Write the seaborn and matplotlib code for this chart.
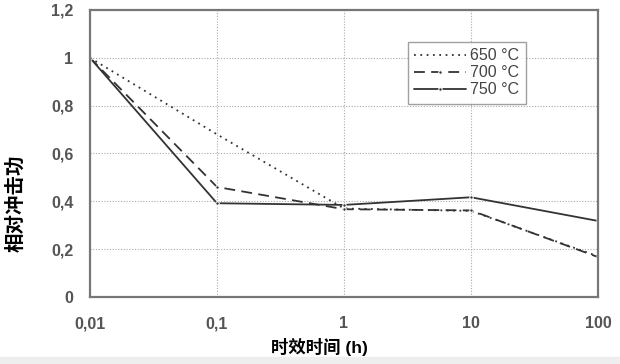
import numpy as np
import pandas as pd
import seaborn as sns
import matplotlib.pyplot as plt
from matplotlib.patches import Rectangle

# aging time (h) and relative impact energy per temperature
hours = [0.01, 0.1, 1, 10, 100]
t650 = [1.0, 0.68, 0.37, 0.36, 0.17]
t700 = [1.0, 0.46, 0.367, 0.362, 0.167]
t750 = [1.0, 0.392, 0.385, 0.417, 0.318]
labels = ['650 °C', '700 °C', '750 °C']

df = pd.DataFrame({
    'hours': hours * 3,
    'value': t650 + t700 + t750,
    'temp': [labels[0]] * 5 + [labels[1]] * 5 + [labels[2]] * 5,
})

sns.set_style('white')
plt.rcParams['font.family'] = ['Liberation Sans', 'Noto Sans CJK SC', 'DejaVu Sans']

fig = plt.figure(figsize=(6.2, 3.64), dpi=100)
# light grey strip at the bottom edge of the scan
fig.patches.append(Rectangle((0, 0), 1, 7 / 364, transform=fig.transFigure,
                             color='#eeeeee', zorder=0))
ax = fig.add_axes([90 / 620, 1 - 297 / 364, 508 / 620, 287 / 364])

sns.lineplot(data=df, x='hours', y='value', hue='temp', style='temp',
             palette=['#333333', '#333333', '#333333'],
             dashes={labels[0]: (1, 2.5), labels[1]: (6, 3.5), labels[2]: ''},
             markers={labels[0]: 'o', labels[1]: 'o', labels[2]: 'o'},
             markersize=2.5, linewidth=1.3, ax=ax)

ax.set_xscale('log')
ax.set_xlim(0.01, 100)
ax.set_ylim(0, 1.2)
ax.set_xticks(hours)
ax.set_xticklabels(['0,01', '0,1', '1', '10', '100'])
yt = np.arange(0, 1.21, 0.2)
ax.set_yticks(yt)
ax.set_yticklabels(['0', '0,2', '0,4', '0,6', '0,8', '1', '1,2'])
ax.minorticks_off()
ax.tick_params(axis='both', length=4, width=1, color='#888888', direction='out',
               labelsize=11.5, labelcolor='#555555', pad=8)
ax.tick_params(axis='x', pad=10)
for lab in ax.get_xticklabels() + ax.get_yticklabels():
    lab.set_fontweight('bold')

ax.grid(True, color='#aaaaaa', linestyle=(0, (1, 1.5)), linewidth=0.8)
for s in ax.spines.values():
    s.set_color('#777777')
    s.set_linewidth(1.6)

ax.set_xlabel('时效时间 (h)', fontsize=12.5, fontweight='bold', color='black',
              family=['Liberation Sans', 'Noto Sans CJK SC'],
              backgroundcolor='white')
ax.xaxis.set_label_coords((319 - 90) / 508, -(338 - 297) / 287)
ax.set_ylabel('相对冲击功', fontsize=14, fontweight='bold', color='black',
              family=['Noto Sans CJK SC'])
ax.yaxis.set_label_coords(-(90 - 25) / 508, (297 - 203) / 287)

leg = ax.legend(title=None, loc='upper left', bbox_to_anchor=((408 - 90) / 508, (297 - 42) / 287),
                frameon=True, fancybox=False, fontsize=11.5, handlelength=3.2,
                borderpad=0.4, labelspacing=0.12, handletextpad=0.3,
                borderaxespad=0)
leg.get_frame().set_edgecolor('#888888')
leg.get_frame().set_linewidth(1)
for t in leg.get_texts():
    t.set_color('#444444')

# the 650 °C series has no point markers
ax.get_lines()[0].set_marker('')
leg.get_lines()[0].set_marker('')

fig.savefig('out.png', dpi=100, facecolor='white')
